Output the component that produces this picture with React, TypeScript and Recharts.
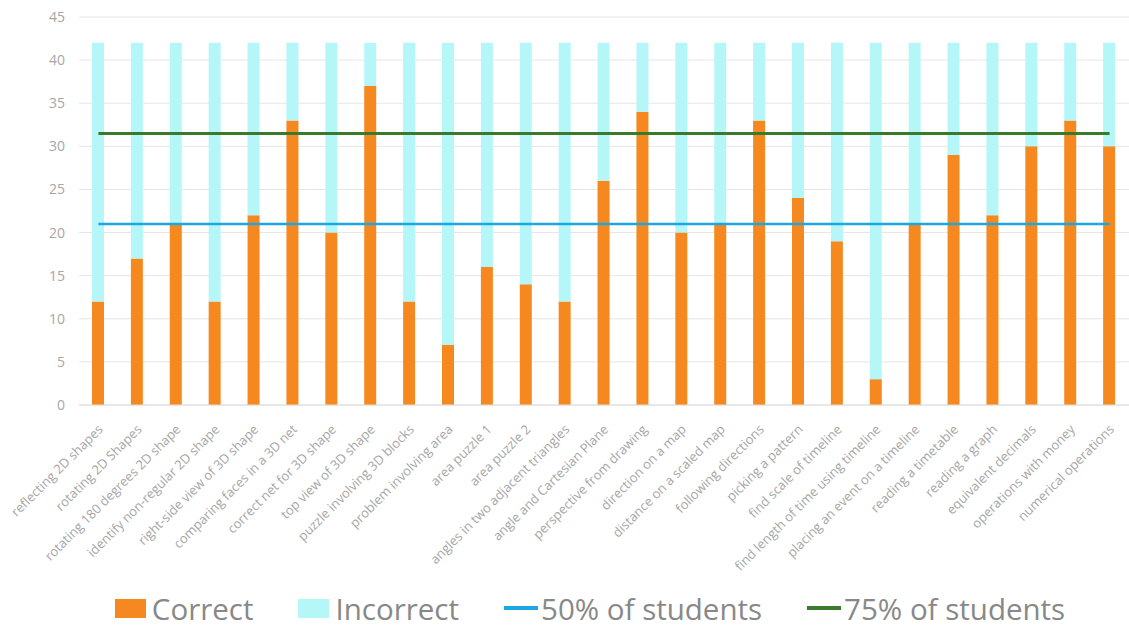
import { ComposedChart, Bar, Line, XAxis, YAxis, CartesianGrid, Legend } from "recharts";

const CATEGORIES = [
  "reflecting 2D shapes",
  "rotating 2D Shapes",
  "rotating 180 degrees 2D shape",
  "identify non-regular 2D shape",
  "right-side view of 3D shape",
  "comparing faces in a 3D net",
  "correct net for 3D shape",
  "top view of 3D shape",
  "puzzle involving 3D blocks",
  "problem involving area",
  "area puzzle 1",
  "area puzzle 2",
  "angles in two adjacent triangles",
  "angle and Cartesian Plane",
  "perspective from drawing",
  "direction on a map",
  "distance on a scaled map",
  "following directions",
  "picking a pattern",
  "find scale of timeline",
  "find length of time using timeline",
  "placing an event on a timeline",
  "reading a timetable",
  "reading a graph",
  "equivalent decimals",
  "operations with money",
  "numerical operations",
];

const CORRECT = [12, 17, 21, 12, 22, 33, 20, 37, 12, 7, 16, 14, 12, 26, 34, 20, 21, 33, 24, 19, 3, 21, 29, 22, 30, 33, 30];
const TOTAL_STUDENTS = 42;
const HALF = 21;
const THREE_QUARTERS = 31.5;
const Y_TICKS = [0, 5, 10, 15, 20, 25, 30, 35, 40, 45];

const COLORS = {
  correct: "#F5891F",
  incorrect: "#B5F7F9",
  half: "#1EA6E0",
  threeQuarters: "#3A7A2C",
};

const data = CATEGORIES.map((name, i) => ({
  name,
  correct: CORRECT[i],
  incorrect: TOTAL_STUDENTS - CORRECT[i],
  half: HALF,
  threeQuarters: THREE_QUARTERS,
}));

const FONT = "'Open Sans', 'Noto Sans', sans-serif";

function AngledTick({ x, y, payload }: any) {
  return (
    <g transform={`translate(${x + 2},${y + 14})`}>
      <text
        x={0}
        y={0}
        dy="0.35em"
        textAnchor="end"
        transform="rotate(-45)"
        fill="#a6a6a6"
        fontSize={13}
        fontFamily={FONT}
      >
        {payload.value}
      </text>
    </g>
  );
}

const LEGEND_ITEMS = [
  { label: "Correct", color: COLORS.correct, kind: "box" },
  { label: "Incorrect", color: COLORS.incorrect, kind: "box" },
  { label: "50% of students", color: COLORS.half, kind: "line" },
  { label: "75% of students", color: COLORS.threeQuarters, kind: "line" },
];

function renderLegend() {
  return (
    <div
      style={{
        display: "flex",
        justifyContent: "center",
        alignItems: "center",
        gap: 45,
        paddingLeft: 51,
        height: 40,
        fontFamily: FONT,
        fontSize: 29.5,
        color: "#888888",
      }}
    >
      {LEGEND_ITEMS.map((item) => (
        <div
          key={item.label}
          style={{ display: "flex", alignItems: "center", gap: item.kind === "box" ? 6 : 3 }}
        >
          {item.kind === "box" ? (
            <span style={{ width: 31, height: 19, background: item.color, display: "inline-block" }} />
          ) : (
            <span style={{ width: 34, height: 3.5, background: item.color, display: "inline-block" }} />
          )}
          <span>{item.label}</span>
        </div>
      ))}
    </div>
  );
}

export default function App() {
  return (
    <div style={{ position: "absolute", left: 0, top: 0, background: "#fff" }}>
      <ComposedChart
        width={1129}
        height={628}
        data={data}
        margin={{ top: 17, right: 0, left: 0, bottom: 0 }}
        barGap={0}
      >
        <CartesianGrid vertical={false} stroke="#e6e6e6" />
        <XAxis
          dataKey="name"
          interval={0}
          tickLine={false}
          axisLine={{ stroke: "#dcdcdc" }}
          height={183}
          tick={<AngledTick />}
        />
        <YAxis
          width={79}
          domain={[0, 45]}
          ticks={Y_TICKS}
          tickLine={false}
          axisLine={false}
          tick={{ fill: "#a6a6a6", fontSize: 14, fontFamily: FONT }}
          tickMargin={8}
        />
        <Legend verticalAlign="bottom" height={40} content={renderLegend} />
        <Bar dataKey="correct" stackId="a" fill={COLORS.correct} barSize={12} isAnimationActive={false} />
        <Bar dataKey="incorrect" stackId="a" fill={COLORS.incorrect} barSize={12} isAnimationActive={false} />
        <Line dataKey="half" stroke={COLORS.half} strokeWidth={2.5} dot={false} isAnimationActive={false} />
        <Line dataKey="threeQuarters" stroke={COLORS.threeQuarters} strokeWidth={3} dot={false} isAnimationActive={false} />
      </ComposedChart>
    </div>
  );
}
